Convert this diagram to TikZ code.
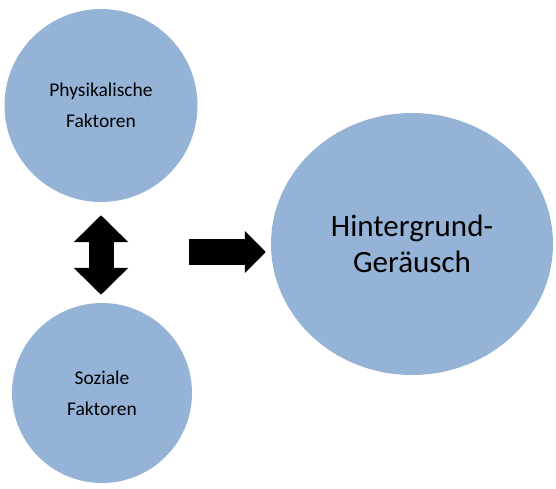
\documentclass[tikz,border=0pt]{standalone}
\usepackage{fontspec}
\setmainfont{Carlito}
\usetikzlibrary{arrows.meta, shapes.geometric, positioning}

\definecolor{bubbleblue}{RGB}{149,179,215}

\tikzset{
  factor/.style={circle, fill=bubbleblue, inner sep=0pt, align=center,
                 font=\fontsize{19.5}{31}\selectfont},
  blockarrow/.style={draw=black, line cap=butt}
}

\begin{document}
\begin{tikzpicture}[x=1pt, y=-1pt]
  \useasboundingbox (0,0) rectangle (556,489);

  % the three bubbles
  \node[factor, minimum size=193pt] (phys) at (101,105.5) {Physikalische\\Faktoren};
  \node[factor, minimum size=180pt] (soz) at (102,393) {Soziale\\Faktoren};
  \node[ellipse, fill=bubbleblue, inner sep=0pt,
        minimum width=282pt, minimum height=262pt, align=center,
        font=\fontsize{31}{36}\selectfont]
        (noise) at (412,244) {Hintergrund-\\Geräusch};

  % block arrows
  \draw[blockarrow, line width=25pt,
        {Triangle[length=27pt,width=53pt]}-{Triangle[length=27pt,width=53pt]},
        shorten <=13pt, shorten >=8pt]
        (phys.south) -- (phys.south |- soz.north);
  \coordinate (tail) at (189,252);
  \draw[blockarrow, line width=26pt, -{Triangle[length=21pt,width=41pt]},
        shorten >=5pt]
        (tail) -- (tail -| noise.west);
\end{tikzpicture}
\end{document}
